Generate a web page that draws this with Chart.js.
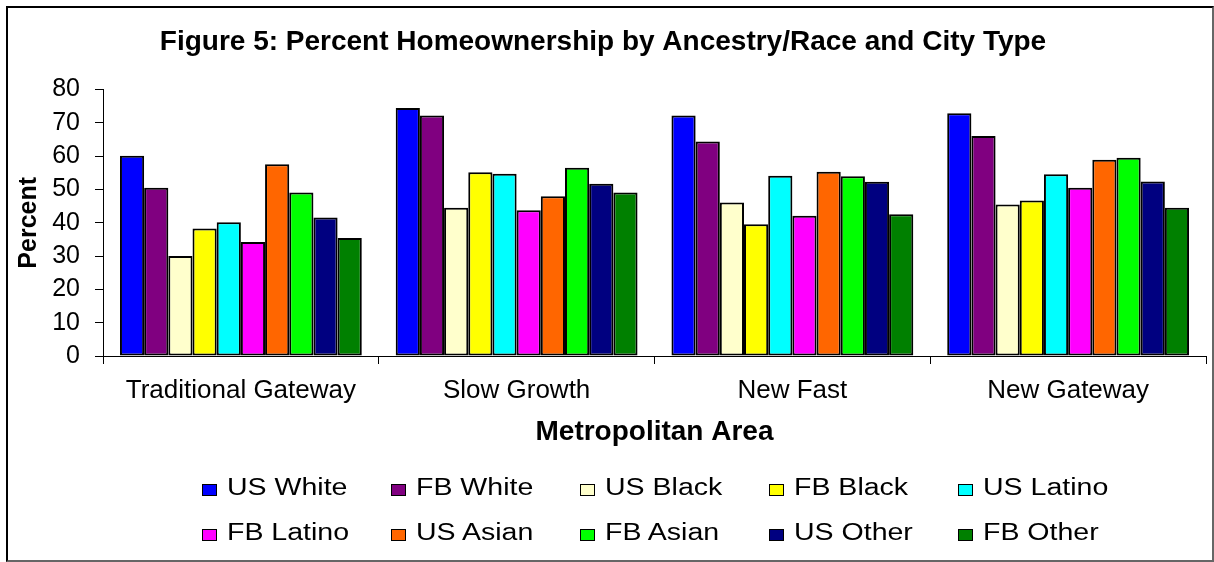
<!DOCTYPE html>
<html>
<head>
<meta charset="utf-8">
<title>Figure 5: Percent Homeownership by Ancestry/Race and City Type</title>
<script src="https://cdn.jsdelivr.net/npm/chart.js"></script>
<style>
  body { margin: 0; background: #fff; font-family: 'Liberation Sans', Arial, sans-serif; }
  #wrap { position: relative; width: 1214px; height: 562px; overflow: hidden; }
  #frame { position: absolute; left: 6px; top: 6px; width: 1208px; height: 556px; box-sizing: border-box;
           border: 2px solid #000; border-right-color: #666; border-bottom-color: #666; }
  #myChart { position: absolute; left: 0; top: 0; }
  .leg-box { position: absolute; width: 15px; height: 12px; box-sizing: border-box; border: 1px solid #000; }
  .leg-text { position: absolute; font-size: 23px; line-height: 23px; color: #000; white-space: nowrap;
              transform: scaleX(1.24); transform-origin: left center; }
</style>
</head>
<body>
<div id="wrap">
  <div id="frame"></div>
  <canvas id="myChart" width="1214" height="562"></canvas>
  <div id="legend"></div>
</div>
<script>
const categories = ['Traditional Gateway', 'Slow Growth', 'New Fast', 'New Gateway'];

const seriesNames = ['US White', 'FB White', 'US Black', 'FB Black', 'US Latino',
                     'FB Latino', 'US Asian', 'FB Asian', 'US Other', 'FB Other'];

const usWhite  = [60.1, 74.5, 72.2, 72.9];
const fbWhite  = [50.5, 72.2, 64.4, 66.1];
const usBlack  = [30.0, 44.5, 46.1, 45.5];
const fbBlack  = [38.3, 55.2, 39.6, 46.7];
const usLatino = [40.2, 54.7, 54.1, 54.6];
const fbLatino = [34.2, 43.8, 42.1, 50.5];
const usAsian  = [57.6, 48.0, 55.3, 58.9];
const fbAsian  = [49.1, 56.5, 54.0, 59.5];
const usOther  = [41.6, 51.7, 52.3, 52.4];
const fbOther  = [35.4, 49.1, 42.6, 44.5];

const yTicks = [0, 10, 20, 30, 40, 50, 60, 70, 80];

const seriesValues = [usWhite, fbWhite, usBlack, fbBlack, usLatino,
                      fbLatino, usAsian, fbAsian, usOther, fbOther];
const seriesColors = ['#0000FF', '#800080', '#FFFFCC', '#FFFF00', '#00FFFF',
                      '#FF00FF', '#FF6600', '#00FF00', '#000080', '#008000'];

Chart.defaults.font.family = "'Liberation Sans', Arial, sans-serif";
Chart.defaults.color = '#000';

const ctx = document.getElementById('myChart');

const chart = new Chart(ctx, {
  type: 'bar',
  data: {
    labels: categories,
    datasets: seriesNames.map((name, i) => ({
      label: name,
      data: seriesValues[i],
      backgroundColor: seriesColors[i],
      borderColor: '#000',
      borderWidth: 2,
      borderSkipped: false,
      categoryPercentage: 0.877,
      barPercentage: 1
    }))
  },
  options: {
    responsive: false,
    animation: false,
    layout: { padding: { left: 0, right: 8, top: 0, bottom: 0 } },
    plugins: {
      legend: { display: false },
      tooltip: { enabled: false },
      title: {
        display: true,
        text: 'Figure 5: Percent Homeownership by Ancestry/Race and City Type',
        font: { size: 28, weight: 'bold' },
        color: '#000',
        padding: { top: 25, bottom: 31 }
      }
    },
    scales: {
      x: {
        grid: { display: true, drawOnChartArea: false, drawTicks: true, tickLength: 8, color: '#000', offset: true },
        border: { display: true, color: '#000', width: 1 },
        ticks: { font: { size: 26 }, color: '#000', padding: 11, maxRotation: 0 },
        title: {
          display: true,
          text: 'Metropolitan Area',
          font: { size: 28, weight: 'bold' },
          color: '#000',
          padding: { top: 0, bottom: 113 }
        },
        afterFit: (scale) => { scale.height = 206; }
      },
      y: {
        min: 0,
        max: 80,
        afterBuildTicks: (scale) => { scale.ticks = yTicks.map((v) => ({ value: v })); },
        grid: { display: true, drawOnChartArea: false, drawTicks: true, tickLength: 8, color: '#000' },
        border: { display: true, color: '#000', width: 1 },
        ticks: { font: { size: 25 }, color: '#000', padding: 15 },
        title: {
          display: true,
          text: 'Percent',
          font: { size: 25, weight: 'bold' },
          color: '#000',
          padding: { top: 14, bottom: 0 }
        },
        afterFit: (scale) => { scale.width = 103; }
      }
    }
  }
});

// legend: two rows of five, laid out like the original
const legend = document.getElementById('legend');
const baselines = [496, 541];
chart.data.datasets.forEach((ds, i) => {
  const col = i % 5;
  const row = Math.floor(i / 5);
  const left = 202 + 189 * col;
  const box = document.createElement('div');
  box.className = 'leg-box';
  box.style.left = left + 'px';
  box.style.top = (baselines[row] - 12) + 'px';
  box.style.background = ds.backgroundColor;
  legend.appendChild(box);
  const txt = document.createElement('div');
  txt.className = 'leg-text';
  txt.style.left = (left + 25) + 'px';
  txt.style.top = (baselines[row] - 20) + 'px';
  txt.textContent = ds.label;
  legend.appendChild(txt);
});
</script>
</body>
</html>
